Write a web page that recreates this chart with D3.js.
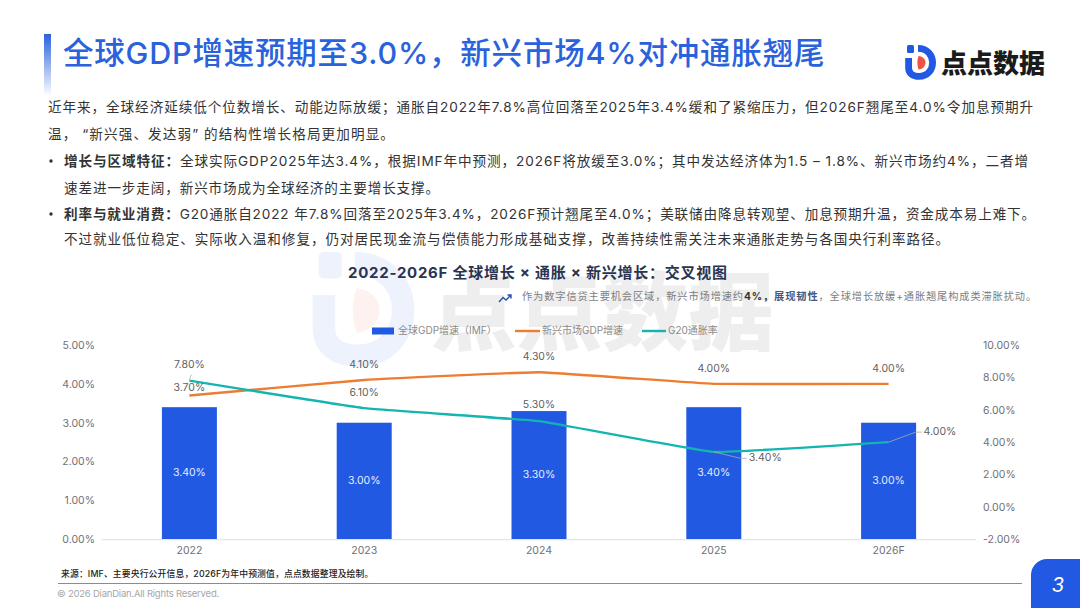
<!DOCTYPE html>
<html>
<head>
<meta charset="utf-8">
<script src="https://cdn.jsdelivr.net/npm/d3@7"></script>
<style>
  html, body { margin: 0; padding: 0; background: #fff; }
  svg { display: block; }
  text { font-family: Inter, "Noto Sans CJK SC", sans-serif; }
</style>
</head>
<body>
<div id="chart"></div>
<script>
var years = ['2022', '2023', '2024', '2025', '2026F']
var gdpGrowth = [3.4, 3.0, 3.3, 3.4, 3.0]
var emergingGrowth = [3.7, 4.1, 4.3, 4.0, 4.0]
var g20Inflation = [7.8, 6.1, 5.3, 3.4, 4.0]
var leftTicks = [0, 1, 2, 3, 4, 5]
var rightTicks = [-2, 0, 2, 4, 6, 8, 10]
var seriesNames = ['全球GDP增速（IMF）', '新兴市场GDP增速', 'G20通胀率']

var blue = '#2159e3'
var orange = '#ed7d31'
var teal = '#14b5b0'
var tickColor = '#6e7079'

var svg = d3.select('#chart').append('svg').attr('width', 1080).attr('height', 608)

var defs = svg.append('defs')
var grad = defs.append('linearGradient').attr('id', 'barFade')
  .attr('x1', 0).attr('y1', 0).attr('x2', 0).attr('y2', 1)
grad.append('stop').attr('offset', 0).attr('stop-color', '#2a62dc')
grad.append('stop').attr('offset', 1).attr('stop-color', '#2a62dc').attr('stop-opacity', 0)

function drawLogo(parent, x, y, k, opacity) {
  var g = parent.append('g')
    .attr('transform', 'translate(' + x + ',' + y + ') scale(' + k + ')')
    .attr('opacity', opacity)
  g.append('rect').attr('x', 2).attr('width', 7).attr('height', 8).attr('rx', 1.5).attr('fill', blue)
  g.append('path')
    .attr('d', 'M3.6 13 V23 C3.6 28.5 8 31.4 14 31.4 C23 31.4 27.6 24.5 27.6 17.5 C27.6 10 22 3.4 13 3.4')
    .attr('fill', 'none').attr('stroke', blue).attr('stroke-width', 6.8)
  g.append('path')
    .attr('d', 'M13.5 11 C18 11.5 20.5 14.5 20.5 17.5 C20.5 21 18 24 13.5 24.5 C12 20 12 15 13.5 11 Z')
    .attr('fill', '#f0533f')
  g.append('text').attr('x', 36).attr('y', 28)
    .attr('font-size', 26).attr('font-weight', 900).attr('fill', '#1b1b1b')
    .style('font-family', '"Noto Sans CJK SC"')
    .text('点点数据')
}

// watermark sits behind everything
drawLogo(svg, 312, 252, 3.3, 0.07)
drawLogo(svg, 905, 45, 1, 1)

// stretch a line of text to the width it has in the slide
function fit(sel, x1) {
  var n = sel.text().length
  var x0 = +sel.attr('x')
  var w = sel.node().getComputedTextLength()
  sel.style('letter-spacing', ((x1 - x0 - w) / n) + 'px')
  return sel
}

function line(x, y, size, color, parts, x1) {
  var t = svg.append('text').attr('x', x).attr('y', y)
    .attr('font-size', size).attr('fill', color)
  parts.forEach(function(p) {
    var s = t.append('tspan').text(p.t)
    if (p.b) s.attr('font-weight', 700)
    if (p.c) s.attr('fill', p.c)
  })
  if (x1) fit(t, x1)
  return t
}

// header
svg.append('rect').attr('x', 44).attr('y', 34).attr('width', 7).attr('height', 62)
  .attr('fill', 'url(#barFade)')
line(63, 63.5, 30.5, '#2a62dc', [{ t: '全球GDP增速预期至3.0%，新兴市场4%对冲通胀翘尾' }], 823)
  .attr('font-weight', 500)

// body copy
var bodyColor = '#333333'
line(48, 112, 13.6, bodyColor, [{ t: '近年来，全球经济延续低个位数增长、动能边际放缓；通胀自2022年7.8%高位回落至2025年3.4%缓和了紧缩压力，但2026F翘尾至4.0%令加息预期升' }], 1034)
line(48, 139, 13.6, bodyColor, [{ t: '温， “新兴强、发达弱” 的结构性增长格局更加明显。' }], 395)
line(64, 166, 13.6, bodyColor, [{ t: '增长与区域特征：', b: 1 }, { t: '全球实际GDP2025年达3.4%，根据IMF年中预测，2026F将放缓至3.0%；其中发达经济体为1.5 – 1.8%、新兴市场约4%，二者增' }], 1029)
line(64, 193, 13.6, bodyColor, [{ t: '速差进一步走阔，新兴市场成为全球经济的主要增长支撑。' }], 440)
line(64, 219, 13.6, bodyColor, [{ t: '利率与就业消费：', b: 1 }, { t: 'G20通胀自2022 年7.8%回落至2025年3.4%，2026F预计翘尾至4.0%；美联储由降息转观望、加息预期升温，资金成本易上难下。' }], 1036)
line(64, 244, 13.6, bodyColor, [{ t: '不过就业低位稳定、实际收入温和修复，仍对居民现金流与偿债能力形成基础支撑，改善持续性需关注未来通胀走势与各国央行利率路径。' }], 950)
svg.selectAll('.bullet').data([161, 214]).enter().append('circle')
  .attr('cx', 51).attr('cy', function(d) { return d }).attr('r', 1.7).attr('fill', '#333')

// chart heading
line(348, 278, 15, '#2a3450', [{ t: '2022-2026F 全球增长 × 通胀 × 新兴增长：交叉视图' }], 727).attr('font-weight', 700)
line(522, 300, 10.2, '#7d7d7d', [
  { t: '作为数字信贷主要机会区域，新兴市场增速约' },
  { t: '4%，', b: 1, c: '#333' },
  { t: '展现韧性', b: 1, c: '#4a5578' },
  { t: '，全球增长放缓+通胀翘尾构成类滞胀扰动。' }
], 1037)
svg.append('path').attr('d', 'M499 302 L503 297.5 L506 300 L511 295 M507.5 295 H511 V298.5')
  .attr('fill', 'none').attr('stroke', '#2a4fb0').attr('stroke-width', 1.4)

// scales
var x = d3.scaleBand().domain(years).range([102, 976])
var yLeft = d3.scaleLinear().domain([0, 5]).range([539.3, 345])
var yRight = d3.scaleLinear().domain([-2, 10]).range([539.3, 345])
var cx = function(d) { return x(d) + x.bandwidth() / 2 }
var barWidth = 55

// axes
var axisLeft = d3.axisLeft(yLeft).tickValues(leftTicks).tickSize(0).tickPadding(0)
  .tickFormat(function(d) { return d.toFixed(2) + '%' })
var axisRight = d3.axisRight(yRight).tickValues(rightTicks).tickSize(0).tickPadding(0)
  .tickFormat(function(d) { return (d < 0 ? '-' : '') + Math.abs(d).toFixed(2) + '%' })
var axisBottom = d3.axisBottom(x).tickSize(0).tickPadding(7)

function styleAxis(g) {
  g.select('.domain').remove()
  g.selectAll('text').attr('font-size', 10.5).attr('fill', tickColor)
    .style('font-family', 'Inter, sans-serif')
}
svg.append('g').attr('transform', 'translate(95,0)').call(axisLeft).call(styleAxis)
svg.append('g').attr('transform', 'translate(983,0)').call(axisRight).call(styleAxis)

// bars
var barIndex = d3.range(years.length)
svg.append('g').selectAll('rect').data(barIndex).enter().append('rect')
  .attr('x', function(i) { return cx(years[i]) - barWidth / 2 })
  .attr('width', barWidth)
  .attr('y', function(i) { return yLeft(gdpGrowth[i]) })
  .attr('height', function(i) { return yLeft(0) - yLeft(gdpGrowth[i]) })
  .attr('fill', blue)

svg.append('g').attr('transform', 'translate(0,539.3)').call(axisBottom).call(styleAxis)
svg.append('line').attr('x1', 102).attr('x2', 976).attr('y1', 539.6).attr('y2', 539.6)
  .attr('stroke', '#e0e6f1').attr('stroke-width', 1.2)

// lines
function drawLine(values, scale, color) {
  var gen = d3.line()
    .x(function(d, i) { return cx(years[i]) })
    .y(function(d) { return scale(d) })
    .curve(d3.curveCardinal.tension(0.75))
  svg.append('path').datum(values).attr('d', gen)
    .attr('fill', 'none').attr('stroke', color).attr('stroke-width', 2.4)
}
drawLine(emergingGrowth, yLeft, orange)
drawLine(g20Inflation, yRight, teal)

// value labels
function label(px, py, str, color, anchor) {
  svg.append('text').attr('x', px).attr('y', py)
    .attr('text-anchor', anchor || 'middle')
    .attr('dominant-baseline', 'middle')
    .attr('font-size', 10.5).attr('fill', color || '#5f5f5f')
    .style('font-family', 'Inter, sans-serif')
    .text(str)
}
var pct = function(d) { return d.toFixed(2) + '%' }

barIndex.forEach(function(i) {
  var c = cx(years[i])
  label(c, (yLeft(gdpGrowth[i]) + yLeft(0)) / 2, pct(gdpGrowth[i]), '#e6edff')
  label(c, yLeft(emergingGrowth[i]) - (i === 0 ? 7 : 15), pct(emergingGrowth[i]))
})

// g20 labels were moved by hand in the original, each with a leader line
var g20Offsets = [[0, -15.5], [0, -15.5], [0, -15.5], [35, 6.5], [35, -10]]
barIndex.forEach(function(i) {
  var c = cx(years[i])
  var py = yRight(g20Inflation[i])
  var o = g20Offsets[i]
  if (o[0] === 0) {
    label(c, py + o[1], pct(g20Inflation[i]))
  } else {
    label(c + o[0], py + o[1], pct(g20Inflation[i]), null, 'start')
    svg.append('polyline')
      .attr('points', [[c, py], [c + 27, py + o[1]], [c + 33, py + o[1]]].join(' '))
      .attr('fill', 'none').attr('stroke', '#a9a9a9').attr('stroke-width', 0.8)
  }
})
svg.append('line')
  .attr('x1', cx(years[0])).attr('y1', yRight(g20Inflation[0]) - 1)
  .attr('x2', cx(years[0]) + 2).attr('y2', yRight(g20Inflation[0]) - 6)
  .attr('stroke', '#a9a9a9').attr('stroke-width', 0.8)

// legend
var legendY = 331
svg.append('rect').attr('x', 372).attr('y', legendY - 3.5).attr('width', 22).attr('height', 7).attr('fill', blue)
svg.append('line').attr('x1', 515).attr('x2', 540).attr('y1', legendY).attr('y2', legendY)
  .attr('stroke', orange).attr('stroke-width', 2.4)
svg.append('line').attr('x1', 642).attr('x2', 666).attr('y1', legendY).attr('y2', legendY)
  .attr('stroke', teal).attr('stroke-width', 2.4)
;[398, 542, 668].forEach(function(px, i) {
  svg.append('text').attr('x', px).attr('y', legendY)
    .attr('dominant-baseline', 'middle').attr('font-size', 10).attr('fill', '#8a8a8a')
    .text(seriesNames[i])
})

// footer
line(61, 577, 8.8, '#222222', [{ t: '来源：IMF、主要央行公开信息，2026F为年中预测值，点点数据整理及绘制。' }], 373)
  .attr('font-weight', 500)
svg.append('line').attr('x1', 58).attr('x2', 1022).attr('y1', 583.5).attr('y2', 583.5)
  .attr('stroke', '#8c8c8c').attr('stroke-width', 1)
line(57, 597, 9.5, '#a6a6a6', [{ t: '© 2026 DianDian.All Rights Reserved.' }], 219)
svg.append('path').attr('d', 'M1031 608 V575 A16 16 0 0 1 1047 559 H1080 V608 Z').attr('fill', blue)
svg.append('text').attr('x', 1058).attr('y', 592).attr('text-anchor', 'middle')
  .attr('font-size', 20).attr('font-style', 'italic').attr('fill', '#fff').text('3')
</script>
</body>
</html>
